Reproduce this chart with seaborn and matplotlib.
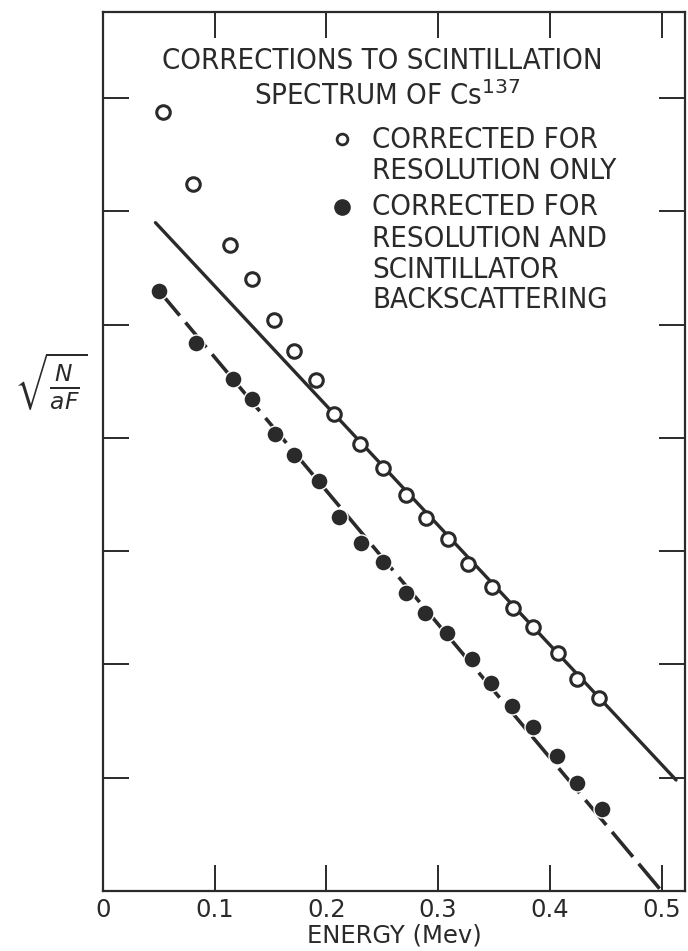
import numpy as np
import pandas as pd
import matplotlib
matplotlib.use("Agg")
import matplotlib.pyplot as plt
import seaborn as sns

# energy (Mev) and sqrt(N/aF) (y in tick units)
res_only_x = [0.054, 0.081, 0.114, 0.133, 0.153, 0.171, 0.191, 0.207, 0.230, 0.251,
              0.271, 0.289, 0.309, 0.327, 0.348, 0.367, 0.385, 0.407, 0.424, 0.444]
res_only_y = [6.88, 6.24, 5.70, 5.40, 5.04, 4.77, 4.51, 4.21, 3.95, 3.73,
              3.50, 3.29, 3.11, 2.89, 2.68, 2.50, 2.33, 2.10, 1.87, 1.70]

res_back_x = [0.050, 0.083, 0.116, 0.133, 0.154, 0.171, 0.193, 0.211, 0.231, 0.251,
              0.271, 0.288, 0.308, 0.330, 0.347, 0.366, 0.385, 0.406, 0.424, 0.447]
res_back_y = [5.30, 4.84, 4.52, 4.34, 4.03, 3.85, 3.62, 3.30, 3.07, 2.90,
              2.63, 2.45, 2.28, 2.05, 1.84, 1.63, 1.45, 1.19, 0.95, 0.72]

# fitted straight lines
fit1_x = [0.047, 0.513]
fit1_y = [5.90, 0.98]
fit2_x = [0.050, 0.500]
fit2_y = [5.30, 0.00]

xtick_vals = [0, 0.1, 0.2, 0.3, 0.4, 0.5]
xtick_labels = ["0", "0.1", "0.2", "0.3", "0.4", "0.5"]
ytick_vals = [1, 2, 3, 4, 5, 6, 7]

sns.set_style("ticks")
plt.rcParams['font.family'] = ['DejaVu Sans']

fig = plt.figure(figsize=(6.88, 9.51), dpi=100)
ax = fig.add_axes([0.1497, 0.0631, 0.8459, 0.9243])

ink = "#2a2a2a"

sns.lineplot(x=fit1_x, y=fit1_y, ax=ax, color=ink, linewidth=2.4)
sns.lineplot(x=fit2_x, y=fit2_y, ax=ax, color=ink, linewidth=2.6)
ax.lines[-1].set_dashes([9, 2.5])

sns.scatterplot(x=res_only_x, y=res_only_y, ax=ax, marker="o", s=95,
                facecolor="white", edgecolor=ink, linewidth=2.2, zorder=3)
sns.scatterplot(x=res_back_x, y=res_back_y, ax=ax, marker="o", s=150,
                color=ink, edgecolor="white", linewidth=1.0, zorder=3)

ax.set_xlim(0, 0.521)
ax.set_ylim(0, 7.76)
ax.set_xticks(xtick_vals)
ax.set_xticklabels(xtick_labels)
ax.set_yticks(ytick_vals)
ax.set_yticklabels([])
ax.tick_params(axis="both", direction="in", length=19, width=1.4, color=ink,
               top=True, right=True, labelsize=17.5, labelcolor=ink, pad=5)
for sp in ax.spines.values():
    sp.set_linewidth(1.6)
    sp.set_color(ink)

ax.set_xlabel("ENERGY (Mev)", fontsize=17.5, color=ink, labelpad=1)
ax.set_ylabel(r"$\sqrt{\frac{N}{aF}}$", fontsize=24, color=ink, rotation=0,
              labelpad=10, va="center")
ax.yaxis.set_label_coords(-0.09, 0.58)

txt = dict(fontsize=21, color=ink, fontstretch="condensed")
ax.text(0.250, 7.33, "CORRECTIONS TO SCINTILLATION",
        ha="center", va="center", **txt)
ax.text(0.255, 7.02, r"SPECTRUM OF Cs$^{137}$",
        ha="center", va="center", **txt)

# legend drawn by hand to match the figure layout
ax.scatter([0.214], [6.64], s=60, facecolor="white", edgecolor=ink, linewidth=2.0)
ax.scatter([0.214], [6.04], s=120, color=ink)
leg_lines = [(6.63, "CORRECTED FOR"), (6.36, "RESOLUTION ONLY"),
             (6.04, "CORRECTED FOR"), (5.76, "RESOLUTION AND"),
             (5.48, "SCINTILLATOR"), (5.22, "BACKSCATTERING")]
for yy, s in leg_lines:
    ax.text(0.241, yy, s, ha="left", va="center", **txt)

fig.savefig("out.png", dpi=100)
